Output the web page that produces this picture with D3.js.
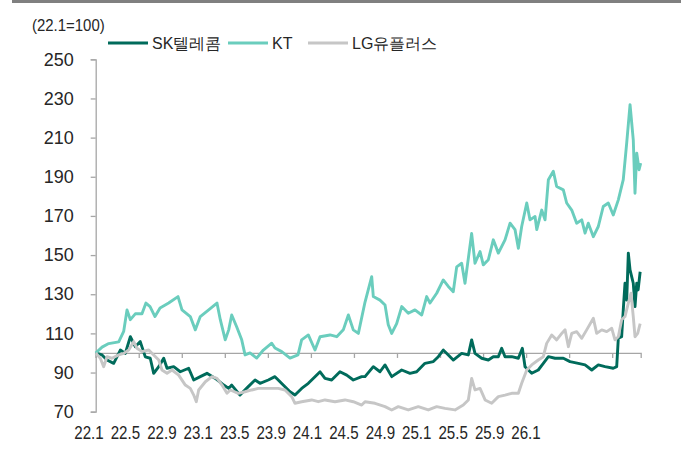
<!DOCTYPE html>
<html>
<head>
<meta charset="utf-8">
<script src="https://cdn.jsdelivr.net/npm/d3@7"></script>
<style>
  body { margin: 0; background: #fff; }
  text { font-family: "Liberation Sans", Arial, sans-serif; fill: #262626; }
</style>
</head>
<body>
<div id="chart"></div>
<script>
// Chart size
var svg_width = 681;
var svg_height = 450;

// x values are months since 22.1 (Jan 2022), values are indexed to 22.1 = 100
var xLabels = ["22.1", "22.5", "22.9", "23.1", "23.5", "23.9", "24.1", "24.5", "24.9", "25.1", "25.5", "25.9", "26.1"];
var tickMonths = [0, 4, 8, 12, 16, 20, 24, 28, 32, 36, 40, 44, 48];
var yTicks = [70, 90, 110, 130, 150, 170, 190, 210, 230, 250];

var skMonths = [0, 0.59, 1.05, 1.67, 2.29, 2.75, 3.22, 3.68, 4.14, 4.61, 5.07, 5.39, 5.86, 6.32, 6.63, 7.25, 7.86, 8.64, 9.11, 9.72,
  10.34, 11.12, 11.9, 12.36, 12.64, 13.41, 14.18, 14.81, 15.27, 16.04, 16.66, 17.43, 18.06, 18.52, 19.14, 19.76, 20.38, 20.85, 21.31, 21.93,
  22.7, 23.33, 23.94, 24.72, 25.03, 25.8, 26.42, 26.89, 27.51, 28.44, 29.21, 29.83, 30.6, 31.38, 31.84, 32.3, 32.77, 33.23, 34.01, 34.63,
  34.94, 35.25, 35.87, 36.49, 36.95, 37.42, 37.73, 38.04, 38.66, 39.28, 39.65, 39.9, 40.52, 41.13, 41.6, 42.07, 42.69, 43.46, 44.08, 44.85,
  45.48, 46.1, 46.71, 47.34, 48.1, 48.42, 48.57, 48.88, 49.03, 49.19, 49.35, 49.5, 49.66, 49.81, 49.96, 50.12, 50.28, 50.41, 50.6];
var skValues = [100, 99, 96.4, 94.7, 101.5, 99.8, 108.3, 103.2, 105.8, 98, 97.3, 89.6, 93, 97.3, 92.2, 93, 90.4, 92.2, 86.2, 87.9,
  89.6, 87, 83.6, 81.9, 83.6, 78.5, 82.8, 86.2, 84.5, 86.2, 87.9, 83.6, 80.2, 78.5, 81.9, 84.5, 87.9, 90.4, 87, 86.2,
  90.4, 88.7, 86.2, 87.9, 87.9, 93, 90.4, 93.9, 87.9, 91.3, 89.6, 90.4, 94.7, 95.6, 98.1, 101.5, 99, 96.4, 99.8, 99,
  106.7, 99.8, 97.3, 96.4, 98.1, 98.1, 102.4, 98.1, 98.1, 97.3, 102.4, 93, 89.6, 91.3, 94.7, 98.1, 97.3, 97.3, 95.6, 94.7,
  93.9, 91.3, 93.9, 93, 92.2, 93, 107.5, 108.3, 122, 135.6, 127, 151, 142.4, 139, 135.6, 123.7, 135.6, 132.2, 141.5];

var ktMonths = [0, 0.59, 1.21, 2.14, 2.6, 2.91, 3.22, 3.68, 4.3, 4.67, 5.05, 5.51, 5.98, 6.78, 7.65, 8.02, 8.79, 9.26, 9.72, 10.5,
  11.27, 11.58, 12.04, 12.36, 12.64, 13.1, 13.57, 13.88, 14.34, 14.96, 15.58, 16.36, 16.66, 17.29, 18.06, 18.8, 19.14, 19.76, 20.38, 20.85,
  21.78, 22.4, 23.01, 23.48, 23.94, 24.41, 25.03, 25.65, 25.8, 26.42, 26.89, 27.19, 27.51, 27.97, 28.44, 29.05, 29.67, 30.3, 30.76, 31.07,
  31.69, 32.3, 32.77, 33.23, 33.55, 34.01, 34.32, 34.94, 35.25, 35.72, 36.02, 36.49, 36.95, 37.42, 38.04, 38.51, 38.97, 39.28, 39.59, 40.06,
  40.36, 40.83, 40.99, 41.45, 41.76, 42.07, 42.53, 42.84, 43.46, 43.77, 44.24, 44.7, 45.17, 45.48, 45.78, 46.25, 46.71, 47.17, 47.64, 48.1,
  48.57, 49.03, 49.35, 49.66, 49.96, 50.12, 50.28, 50.5, 50.65];
var ktValues = [100, 103, 104.8, 105.7, 111, 122, 117, 120, 120, 125.5, 123.7, 118.6, 123, 125.5, 128.8, 122, 118.6, 111.8, 118.6, 122,
  125.5, 117, 106.7, 111.8, 119.4, 113.4, 106.7, 99, 100, 97.4, 101.5, 105, 102.5, 100.7, 97.4, 99, 106.7, 109.2, 101.5, 108.3,
  109.2, 108.3, 111.8, 119.4, 111.8, 110, 126, 139, 128.8, 127, 124.5, 114.4, 110, 115, 123.7, 120.3, 122, 119.4, 128.8, 125.5,
  130.5, 137.3, 134, 131.3, 144, 145.8, 135.6, 161, 145.8, 151.8, 145, 147.6, 157.8, 151, 157.8, 166.3, 163, 153.5, 164.6, 176.6,
  168, 169.7, 163, 173, 168, 188.5, 192.8, 185, 183.3, 176.6, 173, 166.3, 168, 161.2, 166.3, 159.4, 164.6, 174.8, 176.6, 170.5,
  178.2, 188.5, 207.3, 226.8, 208.9, 181.6, 202.1, 193.6, 197];

var lgMonths = [0, 0.43, 0.74, 1.05, 1.51, 2.14, 2.6, 3.07, 3.53, 3.84, 4.3, 4.93, 5.39, 5.86, 6.16, 6.63, 7.09, 7.71, 8.33, 8.79,
  9.11, 9.35, 9.57, 10.19, 10.81, 11.27, 11.74, 12.2, 12.51, 13.25, 13.88, 14.5, 15.11, 16.04, 16.97, 17.59, 18.22, 18.52, 19.14, 20.07,
  20.69, 21.31, 22.24, 23.17, 23.94, 24.72, 25.03, 25.96, 26.89, 27.51, 28.12, 29.05, 29.98, 30.91, 31.69, 32.46, 33.39, 34.16, 34.63, 34.94,
  35.25, 35.72, 36.19, 36.8, 37.42, 38.04, 38.66, 39.28, 39.59, 40.06, 40.52, 41.13, 41.6, 41.91, 42.38, 42.84, 43.31, 43.62, 43.93, 44.24,
  44.7, 45.17, 45.63, 46.25, 46.56, 47.03, 47.49, 47.96, 48.26, 48.57, 48.88, 49.19, 49.5, 49.75, 49.96, 50.12, 50.37, 50.6];
var lgValues = [100, 97.3, 93, 98.1, 97.3, 99, 99.8, 101.5, 105.8, 102.4, 100.7, 101.5, 99, 96.4, 91.3, 89.6, 91.3, 88.7, 83.6, 81.9,
  78.5, 75.1, 81.1, 85.3, 87.9, 87, 83.6, 79.4, 81.1, 79.4, 80.2, 81.1, 81.9, 81.9, 81.9, 81.1, 77.7, 74.3, 75.1, 76,
  75.1, 76, 75.1, 76, 75.1, 73.4, 75.1, 74.3, 72.6, 70.9, 72.6, 70.9, 72.6, 70.9, 72.6, 71.7, 70.9, 73.4, 76, 87,
  81.1, 81.9, 76, 74.3, 77.7, 78.5, 79.4, 79.4, 84.5, 91.3, 93.9, 96.4, 98.1, 104.9, 109.2, 106.7, 110, 111.8, 103.2, 110,
  110.9, 107.5, 111.8, 117.7, 110, 111.8, 110.9, 112.6, 106.7, 108.3, 117, 118.6, 125.5, 130.5, 118.6, 108.3, 110, 115];

var seriesNames = ["SK텔레콤", "KT", "LG유플러스"];
var seriesColors = ["#006b5b", "#6acdbd", "#c6c6c6"];

var svg = d3.select("#chart")
  .append("svg")
  .attr("width", svg_width)
  .attr("height", svg_height);

// top rule
svg.append("rect")
  .attr("x", 12).attr("y", 0)
  .attr("width", svg_width - 12).attr("height", 3)
  .attr("fill", "#808080");

// scales
var x_scale = d3.scaleLinear().domain([0, 50.65]).range([95.7, 640.7]);
var y_scale = d3.scaleLinear().domain([70, 250]).range([411.7, 59.3]);
// the original's month labels sit on their own evenly spaced row
var label_scale = d3.scalePoint().domain(xLabels).range([89, 526]);

// y axis
var y_axis = svg.append("g")
  .attr("transform", "translate(95.7,0)")
  .call(d3.axisLeft(y_scale).tickValues(yTicks).tickSize(5).tickPadding(17));
y_axis.select(".domain").attr("stroke", "#a6a6a6").attr("stroke-width", 1.3);
y_axis.selectAll(".tick line").attr("stroke", "#a6a6a6").attr("stroke-width", 1.3);
y_axis.selectAll(".tick text")
  .style("font-family", "'Liberation Sans', Arial, sans-serif")
  .style("font-size", "18px")
  .attr("fill", "#262626");

// baseline at 100 with month ticks
var base = svg.append("g")
  .attr("transform", `translate(0,${y_scale(100)})`)
  .call(d3.axisBottom(x_scale).tickValues(tickMonths).tickSize(5).tickFormat(""));
base.select(".domain").attr("stroke", "#a6a6a6").attr("stroke-width", 1.3);
base.selectAll(".tick line").attr("stroke", "#a6a6a6").attr("stroke-width", 1.3);

// month labels
svg.append("g").selectAll("text")
  .data(xLabels)
  .enter()
  .append("text")
  .attr("transform", d => `translate(${label_scale(d)},439) scale(0.84,1)`)
  .attr("text-anchor", "middle")
  .style("font-size", "18px")
  .text(d => d);

// lines
var line = d3.line()
  .x(d => x_scale(d[0]))
  .y(d => y_scale(d[1]));

var allMonths = [skMonths, ktMonths, lgMonths];
var allValues = [skValues, ktValues, lgValues];

allMonths.forEach(function(months, i) {
  var pts = months.map((m, j) => [m, allValues[i][j]]);
  svg.append("path")
    .datum(pts)
    .attr("fill", "none")
    .attr("stroke", seriesColors[i])
    .attr("stroke-width", 2.9)
    .attr("stroke-linejoin", "round")
    .attr("d", line);
});

// unit note
svg.append("text")
  .attr("x", 32).attr("y", 31)
  .style("font-size", "17px")
  .attr("transform", "translate(32,0) scale(0.88,1) translate(-32,0)")
  .text("(22.1=100)");

// legend
var legendX = [108, 228, 308];
var legend = svg.append("g");
seriesNames.forEach(function(name, i) {
  legend.append("line")
    .attr("x1", legendX[i]).attr("x2", legendX[i] + 40)
    .attr("y1", 43).attr("y2", 43)
    .attr("stroke", seriesColors[i])
    .attr("stroke-width", 3);
  legend.append("text")
    .attr("x", legendX[i] + 44).attr("y", 49)
    .style("font-size", "16px")
    .text(name);
});
</script>
</body>
</html>
